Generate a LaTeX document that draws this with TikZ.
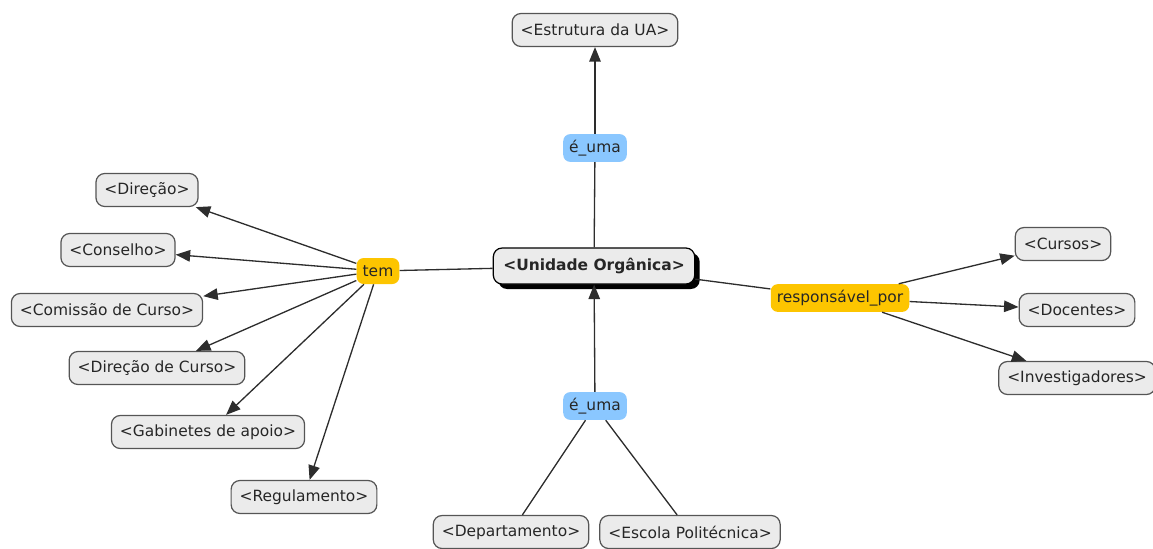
\documentclass[tikz,border=0pt]{standalone}
\usepackage{fontspec}
\setmainfont{DejaVu Sans}
\usepackage{xcolor}
\usepackage{tikz}
\usetikzlibrary{positioning, shapes, shadows, arrows.meta}

\definecolor{conceptfill}{RGB}{235,235,235}
\definecolor{conceptline}{RGB}{85,85,85}
\definecolor{linkgold}{RGB}{253,197,0}
\definecolor{linkblue}{RGB}{138,199,255}
\definecolor{wire}{RGB}{45,45,45}

\begin{document}
\begin{tikzpicture}[
    x=0.02cm, y=-0.02cm,
    font=\fontsize{8.8}{10}\selectfont,
    concept/.style={rectangle, draw=conceptline, line width=0.7pt, fill=conceptfill, rounded corners=5pt, inner xsep=0.17cm, minimum height=0.66cm, text=black!85},
    mainconcept/.style={concept, draw=black, font=\fontsize{8.8}{10}\selectfont\bfseries, inner xsep=0.2cm, minimum height=0.72cm, drop shadow={shadow xshift=0.1cm, shadow yshift=-0.1cm, opacity=1, fill=black}},
    linkword/.style={rectangle, rounded corners=4pt, inner xsep=0.12cm, minimum height=0.52cm, text=black!85},
    line/.style={draw=wire, line width=0.75pt},
    arrow/.style={line, ->, >={Triangle[length=0.29cm, width=0.23cm]}}
    ]

    \useasboundingbox (0,0) rectangle (1153,548);

    % centre
    \node[mainconcept] (main) at (594,266) {<Unidade Orgânica>};

    % linking words
    \node[linkword, fill=linkblue] (eumaTop) at (595,148) {é\_uma};
    \node[linkword, fill=linkblue] (eumaBot) at (595,406) {é\_uma};
    \node[linkword, fill=linkgold] (tem) at (378,271) {tem};
    \node[linkword, fill=linkgold] (responsavel) at (840,298) {responsável\_por};

    % concepts
    \node[concept] (estrutura) at (595,30) {<Estrutura da UA>};

    \node[concept] (direcao) at (147,190) {<Direção>};
    \node[concept] (conselho) at (118,250) {<Conselho>};
    \node[concept] (comissao) at (107,310) {<Comissão de Curso>};
    \node[concept] (direcaoCurso) at (157,368) {<Direção de Curso>};
    \node[concept] (gabinetes) at (208,432) {<Gabinetes de apoio>};
    \node[concept] (regulamento) at (304,497) {<Regulamento>};

    \node[concept] (departamento) at (511,532) {<Departamento>};
    \node[concept] (escola) at (690,532) {<Escola Politécnica>};

    \node[concept] (cursos) at (1063,244) {<Cursos>};
    \node[concept] (docentes) at (1077,310) {<Docentes>};
    \node[concept] (investigadores) at (1077,378) {<Investigadores>};

    % connectors
    \draw[line] (main) -- (eumaTop);
    \draw[arrow] (eumaTop) -- (estrutura);

    \draw[line] (main) -- (tem);
    \draw[arrow] (tem) -- (direcao);
    \draw[arrow] (tem) -- (conselho);
    \draw[arrow] (tem) -- (comissao);
    \draw[arrow] (tem) -- (direcaoCurso);
    \draw[arrow] (tem) -- (gabinetes);
    \draw[arrow] (tem) -- (regulamento);

    \draw[line] (departamento) -- (eumaBot);
    \draw[line] (escola) -- (eumaBot);
    \draw[arrow] (eumaBot) -- (main);

    \draw[line] (main) -- (responsavel);
    \draw[arrow] (responsavel) -- (cursos);
    \draw[arrow] (responsavel) -- (docentes);
    \draw[arrow] (responsavel) -- (investigadores);

\end{tikzpicture}
\end{document}
